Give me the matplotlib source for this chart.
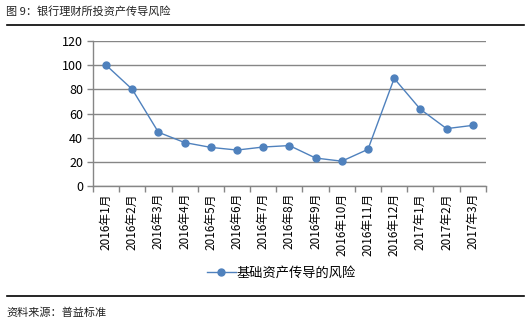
import numpy as np
import matplotlib.pyplot as plt

plt.rcParams['font.family'] = ['Noto Sans CJK SC', 'DejaVu Sans']

months = ['2016年1月', '2016年2月', '2016年3月', '2016年4月', '2016年5月',
          '2016年6月', '2016年7月', '2016年8月', '2016年9月', '2016年10月',
          '2016年11月', '2016年12月', '2017年1月', '2017年2月', '2017年3月']
risk = [100, 80, 44.5, 36, 32, 29.8, 32.3, 33.5, 23.2, 20.6, 30.4, 89, 63.5, 47.5, 50.2]
yticks = [0, 20, 40, 60, 80, 100, 120]

blue = '#4F81BD'
grey = '#868686'

fig = plt.figure(figsize=(5.31, 3.22), dpi=100)
ax = fig.add_axes([0.175, 0.422, 0.74, 0.451])

x = np.arange(len(months))
ax.plot(x, risk, color=blue, lw=1.0, marker='o', ms=5, label='基础资产传导的风险')

ax.set_xlim(-0.5, len(months) - 0.5)
ax.set_ylim(0, 120)
ax.set_yticks(yticks)
ax.set_xticks(x)
ax.set_xticklabels(months, rotation=90, fontsize=8.5)
ax.set_xticks(np.arange(len(months) + 1) - 0.5, minor=True)
ax.tick_params(axis='x', which='major', length=0, pad=5)
ax.tick_params(axis='x', which='minor', length=4, color=grey, width=1)
ax.tick_params(axis='y', length=4, color=grey, width=1, labelsize=9, pad=3)

ax.grid(axis='y', color=grey, lw=1)
ax.set_axisbelow(True)
for s in ['top', 'right']:
    ax.spines[s].set_visible(False)
for s in ['left', 'bottom']:
    ax.spines[s].set_color(grey)
    ax.spines[s].set_linewidth(1)

fig.legend(loc='center', bbox_to_anchor=(0.53, 0.152), frameon=False,
           fontsize=9.5, handlelength=2.2, handletextpad=0.1)

fig.text(0.012, 0.963, '图 9：银行理财所投资产传导风险', fontsize=8, va='center', color='#222222')
fig.add_artist(plt.Line2D([0.013, 0.987], [0.923, 0.923], color='black', lw=1.2))
fig.add_artist(plt.Line2D([0.013, 0.987], [0.081, 0.081], color='black', lw=1.2))
fig.text(0.012, 0.03, '资料来源：普益标准', fontsize=8, va='center', color='#222222')

fig.savefig('out.png', dpi=100)
